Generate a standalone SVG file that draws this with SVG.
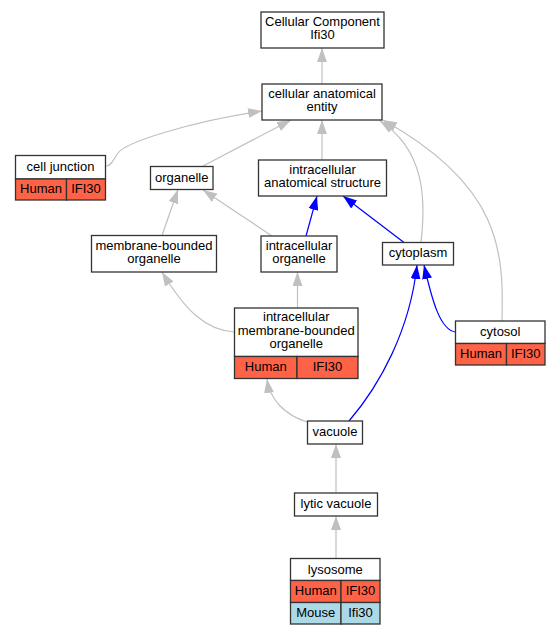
<svg xmlns="http://www.w3.org/2000/svg" width="560" height="635" viewBox="0 0 560 635">
<defs>
<marker id="ag" viewBox="0 0 14 10" refX="14" refY="5" markerWidth="14" markerHeight="10" markerUnits="userSpaceOnUse" orient="auto"><path d="M0,0 L14,5 L0,10 z" fill="#c0c0c0"/></marker>
<marker id="ab" viewBox="0 0 14 10" refX="14" refY="5" markerWidth="14" markerHeight="10" markerUnits="userSpaceOnUse" orient="auto"><path d="M0,0 L14,5 L0,10 z" fill="#0000ff"/></marker>
<style>
text{font-family:"Liberation Sans",Arial,sans-serif;font-size:13px;fill:#000;text-anchor:middle}
.box{fill:#fff;stroke:#333;stroke-width:1.3}
.hu{fill:#ff6347;stroke:#333;stroke-width:1.3}
.mo{fill:#add8e6;stroke:#333;stroke-width:1.3}
.g{fill:none;stroke:#c0c0c0;stroke-width:1.2;marker-end:url(#ag)}
.b{fill:none;stroke:#0000ff;stroke-width:1.2;marker-end:url(#ab)}
</style>
</defs>
<rect width="560" height="635" fill="#fff"/>
<g id="connectors">
<path class="g" d="M322,84 L322,48"/>
<path class="g" d="M106,166 C112,166 114,158 118,153 C126,142 190,122 262,111"/>
<path class="g" d="M203,166 L291,120"/>
<path class="g" d="M322,160 L322,120"/>
<path class="g" d="M421,242.5 C426,200 425,150 380,121"/>
<path class="g" d="M502,321 C504,250 500,185 383,120"/>
<path class="g" d="M162,235.5 L178,189.5"/>
<path class="g" d="M272,236 L203,190"/>
<path class="b" d="M306,236 L317,196"/>
<path class="b" d="M404,242.5 L343,196"/>
<path class="g" d="M234.5,332 C205,330 185,310 162,272"/>
<path class="g" d="M297.5,308 L297.5,272"/>
<path class="b" d="M455.5,332 C440,330 432,300 424,265"/>
<path class="b" d="M349,421 C380,385 410,330 417,265"/>
<path class="g" d="M307,422 C285,415 270,400 267,379"/>
<path class="g" d="M336,493 L336,444"/>
<path class="g" d="M336,558.5 L336,516"/>
</g>
<g id="cellular_component">
<rect class="box" x="261" y="12" width="123" height="36"/>
<text x="322.5" y="26.3">Cellular Component</text>
<text x="322.5" y="39.3">Ifi30</text>
</g>
<g id="cellular_anatomical_entity">
<rect class="box" x="262" y="84" width="120" height="36"/>
<text x="322" y="98.3">cellular anatomical</text>
<text x="322" y="111.3">entity</text>
</g>
<g id="cell_junction">
<rect class="box" x="15.5" y="155.5" width="90" height="23.5"/>
<rect class="hu" x="15.5" y="179" width="51" height="21"/>
<rect class="hu" x="66.5" y="179" width="39" height="21"/>
<text x="60.5" y="170.5">cell junction</text>
<text x="41" y="193">Human</text>
<text x="86" y="193">IFI30</text>
</g>
<g id="organelle">
<rect class="box" x="150.5" y="166.5" width="62.5" height="23"/>
<text x="181.75" y="181.7">organelle</text>
</g>
<g id="intracellular_anatomical_structure">
<rect class="box" x="258.5" y="160" width="128" height="36"/>
<text x="322.5" y="173.8">intracellular</text>
<text x="322.5" y="186.8">anatomical structure</text>
</g>
<g id="membrane_bounded_organelle">
<rect class="box" x="91.5" y="235.5" width="125" height="36.5"/>
<text x="154" y="249.8">membrane-bounded</text>
<text x="154" y="262.8">organelle</text>
</g>
<g id="intracellular_organelle">
<rect class="box" x="261" y="236" width="76" height="36"/>
<text x="299" y="249.8">intracellular</text>
<text x="299" y="262.8">organelle</text>
</g>
<g id="cytoplasm">
<rect class="box" x="382.5" y="242.5" width="71" height="22.5"/>
<text x="418" y="257.3">cytoplasm</text>
</g>
<g id="intracellular_membrane_bounded_organelle">
<rect class="box" x="234.5" y="308" width="123.5" height="48.5"/>
<rect class="hu" x="234.5" y="356.5" width="62.5" height="22"/>
<rect class="hu" x="297" y="356.5" width="61" height="22"/>
<text x="296.25" y="321">intracellular</text>
<text x="296.25" y="334.5">membrane-bounded</text>
<text x="296.25" y="348">organelle</text>
<text x="265.75" y="371">Human</text>
<text x="327.5" y="371">IFI30</text>
</g>
<g id="cytosol">
<rect class="box" x="455.5" y="321" width="89.5" height="22.5"/>
<rect class="hu" x="455.5" y="343.5" width="51" height="21.5"/>
<rect class="hu" x="506.5" y="343.5" width="38.5" height="21.5"/>
<text x="500.25" y="336">cytosol</text>
<text x="481" y="358">Human</text>
<text x="525.75" y="358">IFI30</text>
</g>
<g id="vacuole">
<rect class="box" x="307.5" y="421" width="55" height="23"/>
<text x="335" y="435.5">vacuole</text>
</g>
<g id="lytic_vacuole">
<rect class="box" x="294.5" y="493" width="83" height="23"/>
<text x="336" y="508">lytic vacuole</text>
</g>
<g id="lysosome">
<rect class="box" x="290.5" y="558.5" width="89.5" height="22"/>
<rect class="hu" x="290.5" y="580.5" width="50.5" height="22"/>
<rect class="hu" x="341" y="580.5" width="39" height="22"/>
<rect class="mo" x="290.5" y="602.5" width="50.5" height="21.5"/>
<rect class="mo" x="341" y="602.5" width="39" height="21.5"/>
<text x="335.25" y="573.5">lysosome</text>
<text x="315.75" y="595">Human</text>
<text x="360.5" y="595">IFI30</text>
<text x="315.75" y="617">Mouse</text>
<text x="360.5" y="617">Ifi30</text>
</g>
</svg>
